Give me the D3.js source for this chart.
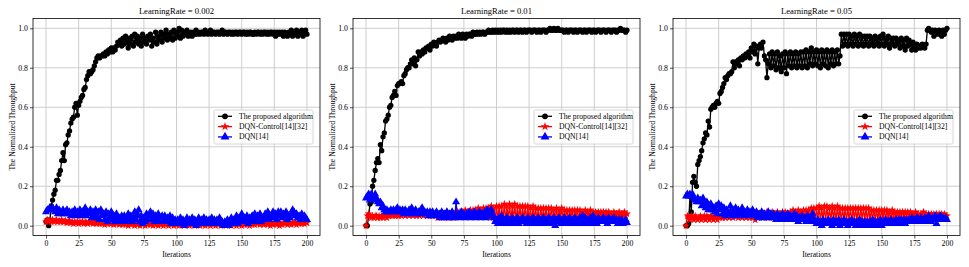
<!DOCTYPE html>
<html>
<head>
<meta charset="utf-8">
<script src="https://cdn.jsdelivr.net/npm/d3@7"></script>
<style>
  body { margin: 0; background: #fff; }
  svg { display: block; font-family: "Liberation Serif", "DejaVu Serif", serif; }
</style>
</head>
<body>
<svg id="chart" width="969" height="267"></svg>
<script>
// tick labels and titles
const xTicks = [0, 25, 50, 75, 100, 125, 150, 175, 200];
const yTicks = [0, 0.2, 0.4, 0.6, 0.8, 1.0];
const titles = ['LearningRate = 0.002', 'LearningRate = 0.01', 'LearningRate = 0.05'];
const seriesNames = ['The proposed algorithm', 'DQN-Control[14][32]', 'DQN[14]'];

// LearningRate = 0.002
const lr002Proposed = [
  0.02,0.03,0.00,0.03,0.10,0.13,0.16,0.18,0.23,0.23,
  0.26,0.28,0.33,0.37,0.33,0.41,0.42,0.46,0.48,0.52,
  0.54,0.55,0.60,0.62,0.56,0.61,0.63,0.65,0.66,0.69,
  0.70,0.74,0.76,0.78,0.77,0.78,0.79,0.81,0.83,0.85,
  0.86,0.85,0.86,0.86,0.87,0.86,0.88,0.87,0.89,0.88,
  0.90,0.88,0.90,0.89,0.91,0.93,0.92,0.94,0.91,0.95,
  0.92,0.96,0.93,0.90,0.95,0.92,0.96,0.91,0.97,0.93,
  0.96,0.92,0.95,0.91,0.97,0.93,0.95,0.92,0.96,0.94,
  0.97,0.91,0.95,0.93,0.98,0.92,0.96,0.94,0.98,0.93,
  0.97,0.95,0.99,0.94,0.97,0.95,0.98,0.94,0.99,0.95,
  0.98,0.96,1.00,0.95,0.99,0.96,0.98,0.97,0.99,0.96,
  0.97,0.98,0.96,0.98,0.97,0.99,0.97,0.98,0.97,0.98,
  0.98,0.97,0.99,0.98,0.97,0.98,0.99,0.97,0.98,0.98,
  0.97,0.98,0.98,0.97,0.98,0.99,0.97,0.98,0.98,0.97,
  0.98,0.98,0.97,0.98,0.97,0.98,0.98,0.97,0.98,0.98,
  0.97,0.98,0.98,0.97,0.98,0.97,0.98,0.98,0.97,0.97,
  0.98,0.97,0.98,0.98,0.97,0.98,0.97,0.98,0.98,0.97,
  0.98,0.97,0.98,0.98,0.97,0.98,0.96,0.98,0.97,0.98,
  0.97,0.98,0.96,0.98,0.97,0.96,0.98,0.97,0.99,0.96,
  0.98,0.97,0.99,0.96,0.98,0.97,0.99,0.96,0.98,0.99,
  0.97
];
const lr002Control = [
  0.02,0.03,0.02,0.03,0.02,0.03,0.02,0.025,0.03,0.02,
  0.025,0.02,0.03,0.02,0.02,0.025,0.015,0.02,0.025,0.015,
  0.02,0.01,0.02,0.015,0.02,0.01,0.02,0.015,0.02,0.01,
  0.02,0.015,0.01,0.02,0.015,0.02,0.01,0.02,0.015,0.01,
  0.02,0.01,0.015,0.01,0.02,0.005,0.015,0.01,0.02,0.01,
  0.01,0.02,0.005,0.015,0.01,0.02,0.005,0.01,0.015,0.005,
  0.015,0.005,0.01,0.0,0.015,0.005,0.01,0.015,0.0,0.01,
  0.005,0.015,0.0,0.01,0.005,0.015,0.0,0.01,0.005,0.02,
  0.005,0.01,0.0,0.015,0.005,0.01,0.0,0.015,0.005,0.01,
  0.0,0.01,0.005,0.015,0.0,0.01,0.005,0.015,0.0,0.01,
  0.005,0.01,0.0,0.015,0.005,0.01,0.0,0.01,0.005,0.015,
  0.0,0.01,0.005,0.01,0.0,0.015,0.005,0.01,0.0,0.01,
  0.005,0.015,0.0,0.01,0.005,0.01,0.0,0.015,0.005,0.01,
  0.0,0.01,0.005,0.015,0.0,0.01,0.005,0.01,0.0,0.015,
  0.005,0.01,0.0,0.015,0.005,0.01,0.0,0.01,0.005,0.015,
  0.0,0.01,0.005,0.015,0.005,0.01,0.0,0.015,0.005,0.01,
  0.005,0.015,0.01,0.02,0.005,0.015,0.01,0.005,0.015,0.01,
  0.005,0.015,0.0,0.01,0.005,0.015,0.01,0.005,0.015,0.0,
  0.01,0.005,0.015,0.01,0.02,0.005,0.015,0.01,0.005,0.015,
  0.01,0.02,0.005,0.015,0.01,0.02,0.01,0.015,0.01,0.02,
  0.015
];
const lr002Dqn = [
  0.07,0.08,0.08,0.09,0.08,0.09,0.08,0.07,0.09,0.06,
  0.08,0.07,0.06,0.08,0.06,0.07,0.08,0.06,0.07,0.05,
  0.07,0.06,0.08,0.05,0.07,0.06,0.08,0.05,0.07,0.06,
  0.09,0.05,0.07,0.06,0.08,0.04,0.07,0.05,0.08,0.04,
  0.07,0.03,0.08,0.05,0.06,0.03,0.07,0.02,0.06,0.04,
  0.07,0.03,0.05,0.02,0.06,0.03,0.04,0.02,0.05,0.03,
  0.05,0.02,0.04,0.06,0.03,0.05,0.02,0.04,0.07,0.03,
  0.05,0.08,0.02,0.05,0.01,0.04,0.02,0.06,0.03,0.05,
  0.07,0.03,0.06,0.02,0.05,0.03,0.06,0.02,0.04,0.05,
  0.02,0.05,0.03,0.04,0.02,0.05,0.01,0.04,0.02,0.03,
  0.01,0.03,0.02,0.04,0.01,0.03,0.00,0.02,0.04,0.01,
  0.03,0.01,0.04,0.02,0.03,0.00,0.02,0.04,0.01,0.03,
  0.02,0.04,0.01,0.03,0.02,0.03,0.01,0.04,0.02,0.03,
  0.01,0.03,0.02,0.04,0.01,0.02,0.00,0.02,0.01,0.03,
  0.00,0.02,0.04,0.01,0.03,0.02,0.05,0.01,0.04,0.02,
  0.06,0.02,0.04,0.03,0.05,0.01,0.04,0.02,0.05,0.03,
  0.06,0.02,0.05,0.03,0.06,0.02,0.04,0.03,0.06,0.04,
  0.07,0.03,0.05,0.04,0.07,0.04,0.06,0.03,0.07,0.05,
  0.07,0.04,0.06,0.05,0.07,0.03,0.05,0.04,0.06,0.08,
  0.07,0.05,0.06,0.04,0.05,0.03,0.06,0.04,0.05,0.04,
  0.03
];

// LearningRate = 0.01
const lr01Proposed = [
  0.00,0.00,0.05,0.11,0.12,0.20,0.23,0.28,0.32,0.34,
  0.32,0.41,0.38,0.45,0.47,0.53,0.54,0.56,0.60,0.61,
  0.65,0.66,0.68,0.66,0.71,0.72,0.72,0.73,0.72,0.76,
  0.77,0.79,0.80,0.80,0.82,0.84,0.82,0.85,0.81,0.84,
  0.88,0.86,0.88,0.87,0.89,0.88,0.90,0.90,0.91,0.89,
  0.92,0.91,0.93,0.92,0.91,0.93,0.94,0.93,0.94,0.95,
  0.94,0.93,0.95,0.94,0.96,0.95,0.94,0.96,0.95,0.96,
  0.95,0.97,0.96,0.95,0.97,0.96,0.95,0.97,0.96,0.97,
  0.97,0.96,0.98,0.97,0.97,0.98,0.97,0.98,0.97,0.98,
  0.98,0.97,0.98,0.98,0.99,0.98,0.98,0.99,0.98,0.99,
  0.98,0.99,0.98,0.99,0.98,0.99,0.99,0.98,0.99,0.98,
  0.99,0.98,0.99,0.99,0.98,0.99,0.99,0.98,0.99,0.99,
  0.98,0.99,0.99,0.98,0.99,0.99,0.99,0.98,0.99,0.99,
  0.99,0.98,0.99,0.99,0.98,0.99,0.99,0.99,0.98,0.99,
  0.99,1.00,0.99,0.99,1.00,0.99,0.99,1.00,0.99,0.99,
  0.99,0.99,0.98,0.99,0.99,0.98,0.99,0.99,0.99,0.98,
  0.99,0.99,0.98,0.99,0.99,0.99,0.98,0.99,0.99,0.98,
  0.99,0.99,0.99,0.98,0.99,0.99,0.98,0.99,0.99,0.99,
  0.98,0.99,0.99,0.99,0.98,0.99,0.99,0.99,0.98,0.99,
  0.99,0.99,0.98,0.99,0.99,1.00,0.99,0.99,0.99,0.98,
  0.99
];
const lr01Control = [
  0.00,0.05,0.06,0.05,0.04,0.05,0.04,0.05,0.05,0.04,
  0.05,0.04,0.05,0.04,0.05,0.05,0.04,0.05,0.05,0.06,
  0.05,0.06,0.05,0.05,0.06,0.05,0.06,0.05,0.06,0.06,
  0.05,0.06,0.06,0.05,0.06,0.06,0.05,0.06,0.06,0.05,
  0.06,0.05,0.06,0.06,0.05,0.06,0.06,0.05,0.06,0.05,
  0.06,0.05,0.06,0.05,0.06,0.04,0.06,0.05,0.06,0.04,
  0.06,0.05,0.07,0.04,0.06,0.05,0.07,0.04,0.06,0.05,
  0.07,0.05,0.07,0.05,0.07,0.05,0.08,0.05,0.07,0.05,
  0.08,0.05,0.08,0.05,0.08,0.06,0.09,0.05,0.08,0.06,
  0.09,0.05,0.09,0.06,0.09,0.04,0.10,0.05,0.09,0.03,
  0.10,0.03,0.10,0.02,0.10,0.03,0.11,0.02,0.10,0.03,
  0.11,0.02,0.10,0.03,0.11,0.02,0.10,0.03,0.10,0.02,
  0.10,0.03,0.10,0.02,0.10,0.03,0.09,0.02,0.10,0.03,
  0.09,0.03,0.09,0.02,0.09,0.03,0.09,0.03,0.09,0.02,
  0.09,0.03,0.09,0.03,0.08,0.03,0.09,0.03,0.08,0.04,
  0.09,0.03,0.08,0.04,0.08,0.03,0.08,0.04,0.08,0.03,
  0.08,0.04,0.08,0.03,0.08,0.04,0.07,0.04,0.08,0.03,
  0.07,0.04,0.08,0.04,0.07,0.03,0.07,0.04,0.07,0.04,
  0.07,0.04,0.07,0.05,0.07,0.04,0.07,0.05,0.06,0.04,
  0.07,0.05,0.06,0.04,0.07,0.05,0.06,0.05,0.07,0.05,
  0.06
];
const lr01Dqn = [
  0.14,0.15,0.16,0.13,0.16,0.15,0.13,0.16,0.14,0.12,
  0.11,0.12,0.09,0.10,0.08,0.07,0.08,0.07,0.07,0.08,
  0.07,0.08,0.07,0.08,0.09,0.07,0.08,0.07,0.08,0.06,
  0.08,0.07,0.06,0.08,0.07,0.09,0.06,0.07,0.08,0.06,
  0.07,0.06,0.08,0.09,0.06,0.07,0.06,0.07,0.05,0.07,
  0.06,0.07,0.05,0.06,0.07,0.05,0.06,0.04,0.07,0.05,
  0.06,0.04,0.07,0.05,0.06,0.04,0.07,0.05,0.04,0.12,
  0.05,0.06,0.04,0.07,0.05,0.06,0.04,0.06,0.05,0.07,
  0.04,0.06,0.05,0.07,0.04,0.06,0.05,0.07,0.04,0.06,
  0.05,0.07,0.04,0.08,0.05,0.07,0.08,0.06,0.04,0.02,
  0.03,0.01,0.04,0.02,0.05,0.01,0.03,0.02,0.04,0.01,
  0.03,0.02,0.04,0.01,0.03,0.02,0.04,0.01,0.03,0.02,
  0.04,0.02,0.03,0.01,0.04,0.02,0.03,0.01,0.04,0.02,
  0.03,0.01,0.04,0.02,0.03,0.01,0.04,0.02,0.03,0.01,
  0.04,0.02,0.03,0.01,0.04,0.00,0.03,0.02,0.04,0.01,
  0.03,0.02,0.04,0.01,0.03,0.02,0.04,0.01,0.03,0.02,
  0.04,0.01,0.03,0.02,0.04,0.01,0.05,0.02,0.04,0.01,
  0.03,0.02,0.04,0.01,0.05,0.02,0.03,0.01,0.04,0.02,
  0.03,0.02,0.04,0.02,0.03,0.01,0.04,0.02,0.03,0.02,
  0.04,0.02,0.03,0.01,0.03,0.02,0.03,0.01,0.02,0.03,
  0.015
];

// LearningRate = 0.05
const lr05Proposed = [
  0.00,0.00,0.01,0.15,0.07,0.22,0.25,0.22,0.20,0.31,
  0.33,0.35,0.38,0.42,0.44,0.47,0.46,0.53,0.50,0.59,
  0.60,0.61,0.60,0.62,0.63,0.62,0.67,0.68,0.70,0.72,
  0.75,0.74,0.76,0.77,0.77,0.78,0.83,0.80,0.83,0.82,
  0.84,0.81,0.85,0.84,0.86,0.85,0.87,0.86,0.88,0.85,
  0.90,0.88,0.92,0.87,0.91,0.82,0.90,0.92,0.90,0.93,
  0.86,0.84,0.75,0.82,0.87,0.80,0.88,0.81,0.87,0.79,
  0.88,0.80,0.86,0.78,0.87,0.80,0.88,0.77,0.87,0.81,
  0.88,0.80,0.87,0.81,0.88,0.80,0.87,0.81,0.88,0.80,
  0.88,0.81,0.89,0.80,0.88,0.82,0.90,0.81,0.88,0.82,
  0.89,0.81,0.88,0.80,0.89,0.82,0.88,0.81,0.89,0.80,
  0.88,0.82,0.89,0.81,0.88,0.82,0.89,0.82,0.86,0.97,
  0.91,0.97,0.92,0.97,0.91,0.97,0.92,0.96,0.91,0.97,
  0.92,0.96,0.91,0.97,0.92,0.96,0.91,0.96,0.92,0.96,
  0.91,0.96,0.92,0.95,0.91,0.96,0.92,0.95,0.91,0.96,
  0.92,0.97,0.91,0.95,0.92,0.96,0.90,0.95,0.92,0.95,
  0.91,0.95,0.92,0.94,0.90,0.95,0.91,0.94,0.89,0.95,
  0.91,0.94,0.92,0.89,0.93,0.91,0.89,0.92,0.90,0.91,
  0.90,0.92,0.91,0.90,0.92,0.99,1.00,0.99,0.98,0.99,
  0.96,0.99,0.98,0.97,0.99,0.98,0.96,0.99,0.97,0.99,
  1.00
];
const lr05Control = [
  0.00,0.05,0.04,0.03,0.05,0.04,0.03,0.05,0.04,0.03,
  0.04,0.05,0.03,0.04,0.05,0.03,0.05,0.04,0.03,0.05,
  0.04,0.03,0.05,0.04,0.03,0.05,0.04,0.05,0.04,0.05,
  0.04,0.05,0.06,0.04,0.05,0.06,0.04,0.05,0.06,0.05,
  0.04,0.06,0.05,0.04,0.06,0.05,0.04,0.06,0.05,0.04,
  0.06,0.04,0.05,0.03,0.06,0.04,0.06,0.05,0.07,0.04,
  0.06,0.05,0.07,0.04,0.06,0.05,0.07,0.04,0.06,0.05,
  0.07,0.04,0.06,0.05,0.07,0.04,0.07,0.05,0.06,0.04,
  0.07,0.05,0.08,0.04,0.07,0.05,0.08,0.04,0.07,0.05,
  0.08,0.04,0.08,0.05,0.08,0.04,0.09,0.04,0.09,0.03,
  0.09,0.03,0.10,0.02,0.09,0.03,0.10,0.02,0.10,0.03,
  0.09,0.02,0.10,0.03,0.09,0.02,0.10,0.03,0.09,0.02,
  0.09,0.03,0.09,0.02,0.09,0.03,0.09,0.02,0.09,0.03,
  0.09,0.03,0.09,0.02,0.09,0.03,0.09,0.03,0.09,0.02,
  0.09,0.03,0.08,0.03,0.08,0.03,0.08,0.03,0.08,0.03,
  0.08,0.04,0.08,0.03,0.08,0.04,0.07,0.03,0.08,0.04,
  0.07,0.04,0.07,0.03,0.07,0.04,0.07,0.04,0.07,0.04,
  0.07,0.04,0.07,0.04,0.06,0.04,0.07,0.05,0.06,0.04,
  0.06,0.05,0.07,0.04,0.06,0.05,0.06,0.04,0.06,0.05,
  0.06,0.05,0.06,0.04,0.06,0.05,0.06,0.05,0.06,0.05,
  0.05
];
const lr05Dqn = [
  0.15,0.16,0.15,0.16,0.15,0.16,0.14,0.13,0.12,0.14,
  0.12,0.13,0.10,0.14,0.11,0.09,0.12,0.08,0.10,0.11,
  0.08,0.09,0.07,0.10,0.06,0.11,0.08,0.10,0.06,0.09,
  0.05,0.08,0.07,0.06,0.10,0.05,0.08,0.06,0.09,0.05,
  0.08,0.06,0.07,0.09,0.05,0.07,0.06,0.08,0.05,0.07,
  0.06,0.08,0.05,0.06,0.07,0.04,0.06,0.05,0.07,0.04,
  0.06,0.05,0.04,0.07,0.05,0.06,0.04,0.06,0.05,0.03,
  0.06,0.04,0.05,0.03,0.06,0.04,0.05,0.03,0.06,0.04,
  0.05,0.03,0.04,0.06,0.03,0.05,0.02,0.04,0.03,0.05,
  0.03,0.04,0.02,0.05,0.03,0.04,0.02,0.06,0.03,0.02,
  0.01,0.03,0.01,0.02,0.00,0.03,0.01,0.02,0.01,0.03,
  0.01,0.02,0.00,0.03,0.01,0.02,0.01,0.03,0.00,0.02,
  0.01,0.03,0.01,0.02,0.00,0.02,0.01,0.03,0.01,0.02,
  0.00,0.02,0.01,0.03,0.00,0.02,0.01,0.02,0.00,0.02,
  0.01,0.02,0.00,0.03,0.01,0.02,0.00,0.02,0.01,0.03,
  0.00,0.02,0.01,0.03,0.01,0.02,0.01,0.03,0.01,0.02,
  0.01,0.03,0.02,0.03,0.01,0.03,0.02,0.03,0.01,0.03,
  0.02,0.03,0.02,0.04,0.02,0.03,0.02,0.04,0.03,0.02,
  0.04,0.02,0.03,0.04,0.02,0.03,0.05,0.03,0.02,0.04,
  0.03,0.05,0.01,0.04,0.03,0.05,0.03,0.04,0.03,0.04,
  0.03
];

const panels = [
  { title: titles[0], series: [lr002Proposed, lr002Control, lr002Dqn] },
  { title: titles[1], series: [lr01Proposed, lr01Control, lr01Dqn] },
  { title: titles[2], series: [lr05Proposed, lr05Control, lr05Dqn] }
];

const colors = ['#000000', '#ff0000', '#0000ff'];
const symbols = [d3.symbolCircle, d3.symbolStar, d3.symbolTriangle];
const symbolSizes = [22, 20, 28];

const svg = d3.select('#chart');
const panelWidth = 287, panelHeight = 217.2;
const panelLeft = [33, 353, 673];
const panelTop = 18.4;

panels.forEach((panel, p) => {
  const g = svg.append('g').attr('transform', `translate(${panelLeft[p]},${panelTop})`);

  const x = d3.scaleLinear().domain([-10, 210]).range([0, panelWidth]);
  const y = d3.scaleLinear().domain([-0.05, 1.05]).range([panelHeight, 0]);

  // grid
  g.append('g').selectAll('line').data(xTicks).enter().append('line')
    .attr('x1', d => x(d)).attr('x2', d => x(d))
    .attr('y1', 0).attr('y2', panelHeight)
    .attr('stroke', '#c8c8c8').attr('stroke-width', 0.9);
  g.append('g').selectAll('line').data(yTicks).enter().append('line')
    .attr('y1', d => y(d)).attr('y2', d => y(d))
    .attr('x1', 0).attr('x2', panelWidth)
    .attr('stroke', '#c8c8c8').attr('stroke-width', 0.9);

  // axes
  const xAxis = g.append('g')
    .attr('transform', `translate(0,${panelHeight})`)
    .call(d3.axisBottom(x).tickValues(xTicks).tickSize(3).tickPadding(2).tickFormat(d3.format('d')));
  const yAxis = g.append('g')
    .call(d3.axisLeft(y).tickValues(yTicks).tickSize(3).tickPadding(2).tickFormat(d3.format('.1f')));
  [xAxis, yAxis].forEach(a => {
    a.select('.domain').remove();
    a.selectAll('line').attr('stroke', '#000').attr('stroke-width', 0.7);
    a.selectAll('text').attr('font-family', '"Liberation Serif", serif')
      .attr('font-size', 7.8).attr('fill', '#000');
  });

  // series
  const line = d3.line().x((d, i) => x(i)).y(d => y(d));
  panel.series.forEach((values, s) => {
    const sg = g.append('g');
    sg.append('path').datum(values)
      .attr('d', line).attr('fill', 'none')
      .attr('stroke', colors[s]).attr('stroke-width', 1.3);
    sg.selectAll('path.mk').data(values).enter().append('path')
      .attr('class', 'mk')
      .attr('transform', (d, i) => `translate(${x(i)},${y(d)})`)
      .attr('d', d3.symbol().type(symbols[s]).size(symbolSizes[s]))
      .attr('fill', colors[s]);
  });

  // frame
  g.append('rect').attr('width', panelWidth).attr('height', panelHeight)
    .attr('fill', 'none').attr('stroke', '#000').attr('stroke-width', 0.8);

  // title and labels
  g.append('text').attr('x', panelWidth / 2).attr('y', -4.5)
    .attr('text-anchor', 'middle').attr('font-size', 8.6).text(panel.title);
  g.append('text').attr('x', panelWidth / 2).attr('y', panelHeight + 21.5)
    .attr('text-anchor', 'middle').attr('font-size', 7.6).text('Iterations');
  g.append('text')
    .attr('transform', `translate(-18,${panelHeight / 2}) rotate(-90)`)
    .attr('text-anchor', 'middle').attr('font-size', 7.6).text('The Normalized Throughput');

  // legend
  const lg = g.append('g').attr('transform', `translate(${panelWidth - 106},${91.6})`);
  lg.append('rect').attr('width', 99).attr('height', 34).attr('rx', 1.5)
    .attr('fill', 'rgba(255,255,255,0.85)').attr('stroke', '#cccccc').attr('stroke-width', 0.8);
  seriesNames.forEach((name, s) => {
    const ry = 6.3 + s * 10.3;
    lg.append('line').attr('x1', 4).attr('x2', 18).attr('y1', ry).attr('y2', ry)
      .attr('stroke', colors[s]).attr('stroke-width', 1.3);
    lg.append('path').attr('transform', `translate(11,${ry})`)
      .attr('d', d3.symbol().type(symbols[s]).size(symbolSizes[s] * 1.2))
      .attr('fill', colors[s]);
    lg.append('text').attr('x', 25).attr('y', ry + 2.5)
      .attr('font-size', 7.7).text(name);
  });
});
</script>
</body>
</html>
